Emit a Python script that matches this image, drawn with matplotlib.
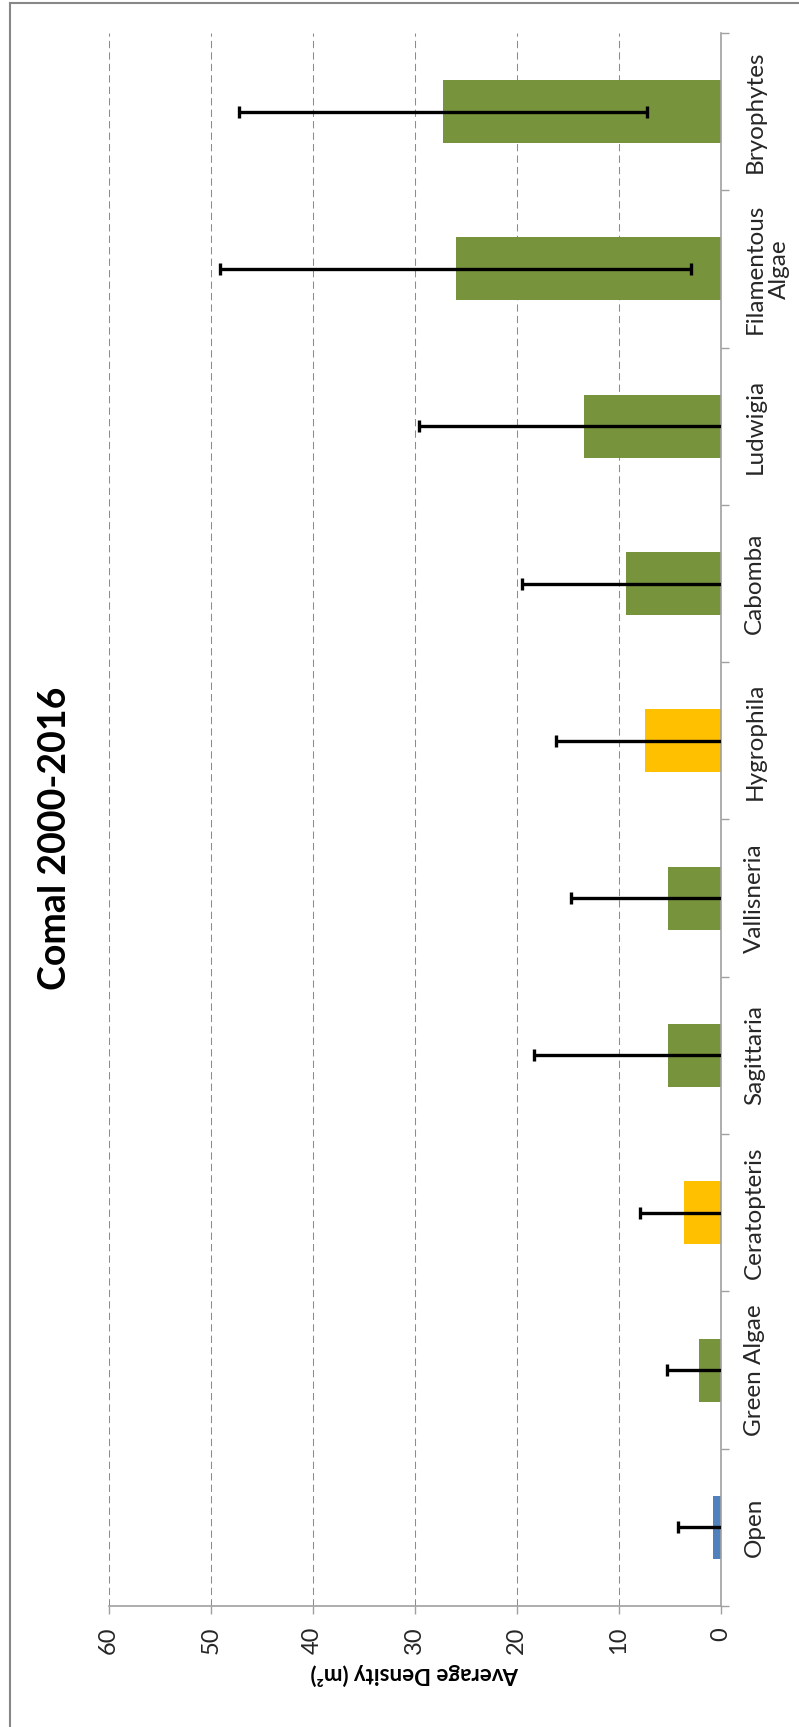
import numpy as np
import matplotlib.pyplot as plt
from matplotlib.lines import Line2D

# Comal aquatic vegetation, mean density 2000-2016 with standard deviation
categories = ['Open', 'Green Algae', 'Ceratopteris', 'Sagittaria', 'Vallisneria',
              'Hygrophila', 'Cabomba', 'Ludwigia', 'Filamentous\nAlgae', 'Bryophytes']
density = [0.8, 2.1, 3.6, 5.2, 5.2, 7.4, 9.3, 13.4, 26.0, 27.2]
std_dev = [3.4, 3.2, 4.3, 13.1, 9.5, 8.7, 10.2, 16.2, 23.1, 20.0]
bar_colors = ['#4F81BD', '#77933C', '#FFC000', '#77933C', '#77933C',
              '#FFC000', '#77933C', '#77933C', '#77933C', '#77933C']
value_ticks = [0, 10, 20, 30, 40, 50, 60]

plt.rcParams['font.family'] = ['Lato', 'DejaVu Sans']

W, H = 799, 1727
axis_grey = '#A0A0A0'

fig = plt.figure(figsize=(W / 100, H / 100), dpi=100)
ax = fig.add_axes([108.7 / W, (H - 1606) / H, 612 / W, 1573 / H])

y = np.arange(len(categories))
ax.barh(y, density, height=0.4, color=bar_colors, zorder=2)
ax.errorbar(density, y, xerr=std_dev, fmt='none', ecolor='black',
            elinewidth=2.4, capsize=4.5, capthick=2.4, zorder=3)

# value axis runs right-to-left (0 next to the category axis)
ax.set_xlim(60, 0)
ax.set_ylim(-0.5, len(categories) - 0.5)

ax.set_xticks(value_ticks)
ax.set_xticklabels([str(v) for v in value_ticks], rotation=90,
                   fontsize=17, color='#262626', va='top')
ax.tick_params(axis='x', length=6, width=1, color=axis_grey, pad=9)
ax.xaxis.grid(True, color='#8C8C8C', lw=0.75, linestyle=(0, (7, 4)))
ax.set_axisbelow(True)

# category labels on the right, tick marks on the category boundaries
ax.yaxis.tick_right()
ax.set_yticks(y)
ax.set_yticklabels(categories, rotation=90, fontsize=17.5, color='#262626',
                   va='center')
for lbl in ax.get_yticklabels():
    lbl.set_multialignment('center')
ax.set_yticks(np.arange(-0.5, len(categories), 1), minor=True)
ax.tick_params(axis='y', which='major', length=0, pad=17)
ax.tick_params(axis='y', which='minor', length=5.5, width=1, color=axis_grey)

for side in ['left', 'top']:
    ax.spines[side].set_visible(False)
for side in ['right', 'bottom']:
    ax.spines[side].set_color(axis_grey)
    ax.spines[side].set_linewidth(1.2)

ax.set_xlabel('Average Density (m\u00b2)', rotation=180, fontsize=16,
              fontweight='bold', labelpad=6)

fig.text(55 / W, 1 - 838 / H, 'Comal 2000-2016', rotation=90, fontsize=27,
         fontweight='bold', ha='center', va='center')

# chart border
fig.add_artist(Line2D([10 / W, 10 / W], [0, 1 - 3 / H], transform=fig.transFigure,
                      color='#878787', lw=1.5))
fig.add_artist(Line2D([10 / W, 1], [1 - 3 / H, 1 - 3 / H], transform=fig.transFigure,
                      color='#878787', lw=1.5))

fig.savefig('out.png', dpi=100)
